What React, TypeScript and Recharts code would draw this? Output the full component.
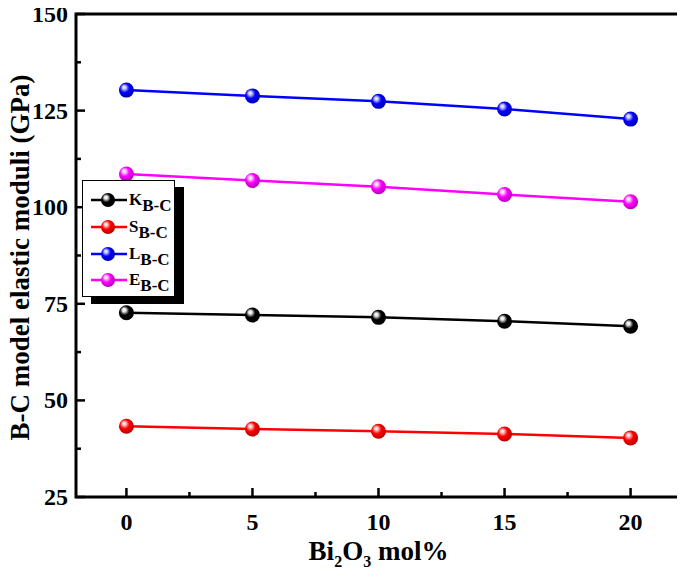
import React from "react";
import { LineChart, Line, XAxis, YAxis, ReferenceArea, Legend } from "recharts";

const xValues = [0, 5, 10, 15, 20];
const kValues = [72.7, 72.1, 71.5, 70.5, 69.2];
const sValues = [43.3, 42.6, 42.0, 41.3, 40.3];
const lValues = [130.3, 128.8, 127.4, 125.4, 122.8];
const eValues = [108.6, 106.9, 105.3, 103.3, 101.4];

const xTicks = [0, 2.5, 5, 7.5, 10, 12.5, 15, 17.5, 20];
const yTicks = [25, 37.5, 50, 62.5, 75, 87.5, 100, 112.5, 125, 137.5, 150];
const xMajor = [0, 5, 10, 15, 20];
const yMajor = [25, 50, 75, 100, 125, 150];

const seriesNames = ["K", "S", "L", "E"];
const seriesColors = ["#000000", "#ff0000", "#0000ff", "#ff00ff"];
const seriesDark = ["#000000", "#b00000", "#0000a8", "#b000b0"];
const seriesLight = ["#e8e8e8", "#ffc8c8", "#c8c8ff", "#ffd0ff"];

const data = xValues.map((x, i) => ({
  x,
  K: kValues[i],
  S: sValues[i],
  L: lValues[i],
  E: eValues[i],
}));

const FONT = "'Liberation Serif', 'Times New Roman', serif";

const Gradients = () => (
  <svg width={0} height={0} style={{ position: "absolute" }}>
    <defs>
      {seriesNames.map((n, i) => (
        <radialGradient key={n} id={`g-${n}`} cx="0.42" cy="0.42" r="0.62" fx="0.34" fy="0.3">
          <stop offset="0%" stopColor="#ffffff" />
          <stop offset="18%" stopColor={seriesLight[i]} />
          <stop offset="50%" stopColor={seriesColors[i]} />
          <stop offset="100%" stopColor={seriesDark[i]} />
        </radialGradient>
      ))}
    </defs>
  </svg>
);

const YTick = (props: any) => {
  const { x, y, payload } = props;
  const v = payload.value;
  const major = yMajor.includes(v);
  return (
    <g>
      <line x1={x} x2={x + (major ? 9 : 5)} y1={y} y2={y} stroke="#000" strokeWidth={2.5} />
      {major && (
        <text x={x - 8} y={y} textAnchor="end" dominantBaseline="central" fontFamily={FONT} fontWeight="bold" fontSize={24} fill="#000">
          {v}
        </text>
      )}
    </g>
  );
};

const XTick = (props: any) => {
  const { x, y, payload } = props;
  const v = payload.value;
  const major = xMajor.includes(v);
  return (
    <g>
      <line x1={x} x2={x} y1={y} y2={y - (major ? 9 : 5)} stroke="#000" strokeWidth={2.5} />
      {major && (
        <text x={x} y={y + 25} textAnchor="middle" dominantBaseline="central" fontFamily={FONT} fontWeight="bold" fontSize={24} fill="#000">
          {v}
        </text>
      )}
    </g>
  );
};

const XLabel = (props: any) => {
  const vb = props.viewBox || { x: 76, y: 497, width: 605, height: 80 };
  const cx = vb.x + vb.width / 2;
  return (
    <text x={cx} y={vb.y + 63} textAnchor="middle" fontFamily={FONT} fontWeight="bold" fontSize={27} fill="#000">
      <tspan>Bi</tspan>
      <tspan fontSize={16} dy={7}>2</tspan>
      <tspan dy={-7}>O</tspan>
      <tspan fontSize={16} dy={7}>3</tspan>
      <tspan dy={-7}> mol%</tspan>
    </text>
  );
};

const YLabel = (props: any) => {
  const vb = props.viewBox || { x: 0, y: 14, width: 76, height: 483 };
  const cx = 20;
  const cy = vb.y + vb.height / 2 + 2;
  return (
    <text x={cx} y={cy} transform={`rotate(-90, ${cx}, ${cy})`} textAnchor="middle" dominantBaseline="central" fontFamily={FONT} fontWeight="bold" fontSize={27} fill="#000">
      B-C model elastic moduli (GPa)
    </text>
  );
};

const LegendBox = () => {
  const rows = [20, 47, 74, 100];
  return (
    <div
      style={{
        width: 93,
        height: 117,
        boxSizing: "border-box",
        border: "1px solid #000",
        background: "#fff",
        boxShadow: "9px 7px 0 0 #000",
      }}
    >
      <svg width={91} height={115} style={{ display: "block", overflow: "visible" }}>
        {seriesNames.map((n, i) => (
          <g key={n} transform={`translate(-1, ${rows[i] - 1})`}>
            <line x1={9} x2={45} y1={0} y2={0} stroke={seriesColors[i]} strokeWidth={2.5} />
            <circle cx={26} cy={0} r={7} fill={`url(#g-${n})`} />
            <text x={47} y={5} fontFamily={FONT} fontWeight="bold" fontSize={17} fill="#000">
              {n}
              <tspan dy={6}>B-C</tspan>
            </text>
          </g>
        ))}
      </svg>
    </div>
  );
};

const makeDot = (name: string) => (p: any) => (
  <circle key={`dot-${name}-${p.index}`} cx={p.cx} cy={p.cy} r={7.5} fill={`url(#g-${name})`} />
);

export default function App() {
  return (
    <div style={{ position: "relative", width: 685, height: 577, margin: "-8px 0 0 -8px" }}>
      <Gradients />
      <LineChart width={685} height={577} data={data} margin={{ top: 14, right: 4, bottom: 0, left: 0 }}>
        <XAxis
          dataKey="x"
          type="number"
          domain={[-2, 22]}
          ticks={xTicks}
          interval={0}
          axisLine={false}
          tickLine={false}
          tickSize={0}
          tickMargin={0}
          tick={<XTick />}
          height={80}
          allowDataOverflow
          label={<XLabel />}
        />
        <YAxis
          type="number"
          domain={[25, 150]}
          ticks={yTicks}
          interval={0}
          axisLine={false}
          tickLine={false}
          tickSize={0}
          tickMargin={0}
          tick={<YTick />}
          width={76}
          allowDataOverflow
          label={<YLabel />}
        />
        <ReferenceArea x1={-2} x2={22} y1={25} y2={150} fill="none" fillOpacity={0} stroke="#000" strokeWidth={3} ifOverflow="visible" />
        {seriesNames.map((n, i) => (
          <Line
            key={n}
            dataKey={n}
            stroke={seriesColors[i]}
            strokeWidth={2.5}
            dot={makeDot(n)}
            activeDot={false}
            isAnimationActive={false}
          />
        ))}
        <Legend
          layout="horizontal"
          verticalAlign="middle"
          align="center"
          content={<LegendBox />}
          wrapperStyle={{ position: "absolute", left: 82, top: 180, width: 93, height: 117 }}
        />
      </LineChart>
    </div>
  );
}
